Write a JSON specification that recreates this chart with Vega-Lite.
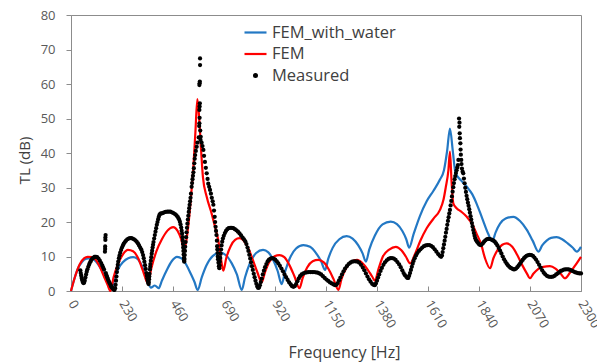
{
"$schema": "https://vega.github.io/schema/vega-lite/v6.json",
"width": 510, "height": 276,
"autosize": {"type": "none"},
"padding": {"left": 71, "top": 15, "right": 16, "bottom": 72},
"background": "white",
"config": {
  "font": "Open Sans",
  "view": {"stroke": "#8c8c8c", "strokeWidth": 1},
  "axis": {"grid": false, "domainColor": "#8c8c8c", "tickColor": "#8c8c8c", "labelColor": "#595959", "titleColor": "#404040", "labelFont": "Open Sans", "titleFont": "Open Sans", "labelFontSize": 13, "titleFontSize": 16, "titleFontWeight": "normal", "labelFlush": false, "labelOverlap": false}
},
"datasets": {
"fem_water": [
{"f":0,"tl":0},{"f":15,"tl":3.5},{"f":30,"tl":6.3},{"f":50,"tl":8.5},{"f":70,"tl":9.4},{"f":88,"tl":9.5},{"f":105,"tl":9.0},{"f":125,"tl":7.5},{"f":145,"tl":5.2},{"f":160,"tl":3.0},{"f":172,"tl":1.3},{"f":180,"tl":0.5},
{"f":195,"tl":3.2},{"f":212,"tl":6.3},{"f":235,"tl":8.4},{"f":258,"tl":9.5},{"f":280,"tl":9.8},{"f":300,"tl":9.3},{"f":320,"tl":7.3},{"f":340,"tl":4.3},{"f":360,"tl":1.0},{"f":378,"tl":1.6},{"f":395,"tl":0.8},
{"f":410,"tl":3.0},{"f":430,"tl":5.8},{"f":455,"tl":8.7},{"f":478,"tl":9.9},{"f":500,"tl":9.4},{"f":520,"tl":7.6},{"f":540,"tl":5.0},{"f":557,"tl":2.6},{"f":571,"tl":0.3},
{"f":590,"tl":4.0},{"f":610,"tl":7.3},{"f":640,"tl":10.2},{"f":672,"tl":11.1},{"f":700,"tl":10.3},{"f":725,"tl":8.0},{"f":748,"tl":4.8},{"f":770,"tl":0.3},
{"f":785,"tl":4.0},{"f":805,"tl":7.8},{"f":835,"tl":11.0},{"f":866,"tl":11.9},{"f":890,"tl":11.2},{"f":912,"tl":9.0},{"f":932,"tl":5.8},{"f":950,"tl":2.0},
{"f":965,"tl":5.5},{"f":985,"tl":9.2},{"f":1015,"tl":12.3},{"f":1048,"tl":13.3},{"f":1078,"tl":12.8},{"f":1105,"tl":11.0},{"f":1128,"tl":8.6},{"f":1146,"tl":6.1},
{"f":1160,"tl":9.3},{"f":1180,"tl":12.5},{"f":1210,"tl":15.0},{"f":1243,"tl":15.9},{"f":1270,"tl":15.2},{"f":1295,"tl":13.3},{"f":1315,"tl":10.9},{"f":1330,"tl":8.5},
{"f":1345,"tl":12.0},{"f":1370,"tl":16.0},{"f":1405,"tl":19.3},{"f":1442,"tl":20.1},{"f":1470,"tl":19.4},{"f":1495,"tl":17.3},{"f":1512,"tl":15.0},{"f":1525,"tl":12.6},
{"f":1545,"tl":16.5},{"f":1574,"tl":21.8},{"f":1604,"tl":26.0},{"f":1634,"tl":29.0},{"f":1664,"tl":32.3},{"f":1682,"tl":35.0},{"f":1696,"tl":40.5},{"f":1709,"tl":47.1},{"f":1722,"tl":40.5},{"f":1734,"tl":34.2},{"f":1760,"tl":32.0},{"f":1785,"tl":30.2},{"f":1810,"tl":28.0},{"f":1830,"tl":25.2},{"f":1855,"tl":21.0},{"f":1882,"tl":16.5},{"f":1900,"tl":14.5},
{"f":1915,"tl":17.0},{"f":1935,"tl":19.5},{"f":1960,"tl":21.0},{"f":1995,"tl":21.5},{"f":2025,"tl":20.3},{"f":2055,"tl":17.8},{"f":2082,"tl":14.6},{"f":2108,"tl":11.4},
{"f":2125,"tl":13.2},{"f":2145,"tl":14.6},{"f":2165,"tl":15.4},{"f":2190,"tl":15.6},{"f":2215,"tl":15.0},{"f":2240,"tl":13.8},{"f":2262,"tl":12.6},{"f":2281,"tl":11.4},{"f":2300,"tl":12.8}
],
"fem": [
{"f":0,"tl":0},{"f":20,"tl":4.5},{"f":40,"tl":7.8},{"f":60,"tl":9.5},{"f":75,"tl":9.9},{"f":95,"tl":9.8},{"f":110,"tl":9.2},{"f":130,"tl":7.0},{"f":150,"tl":4.0},{"f":165,"tl":1.8},{"f":178,"tl":0},
{"f":192,"tl":4.0},{"f":212,"tl":7.8},{"f":235,"tl":10.7},{"f":257,"tl":11.9},{"f":280,"tl":11.5},{"f":303,"tl":9.5},{"f":325,"tl":5.8},{"f":347,"tl":2.2},
{"f":362,"tl":6.5},{"f":385,"tl":11.5},{"f":410,"tl":15.0},{"f":435,"tl":17.5},{"f":461,"tl":18.5},{"f":480,"tl":17.5},{"f":497,"tl":15.0},{"f":510,"tl":12.0},
{"f":520,"tl":14.5},{"f":530,"tl":19.5},{"f":542,"tl":28.0},{"f":552,"tl":36.0},{"f":561,"tl":46.0},{"f":570,"tl":55.6},{"f":578,"tl":50.0},{"f":587,"tl":40.5},{"f":595,"tl":33.0},{"f":612,"tl":27.3},{"f":634,"tl":22.5},{"f":650,"tl":18.5},{"f":664,"tl":14.8},{"f":676,"tl":9.5},{"f":687,"tl":5.9},
{"f":700,"tl":9.5},{"f":720,"tl":13.0},{"f":740,"tl":14.8},{"f":760,"tl":15.3},{"f":780,"tl":14.5},{"f":800,"tl":12.3},{"f":820,"tl":9.0},{"f":840,"tl":5.5},{"f":860,"tl":2.5},
{"f":875,"tl":5.5},{"f":895,"tl":8.5},{"f":918,"tl":10.1},{"f":940,"tl":10.4},{"f":962,"tl":9.8},{"f":985,"tl":7.5},{"f":1008,"tl":4.2},{"f":1030,"tl":0.8},
{"f":1045,"tl":3.8},{"f":1065,"tl":6.8},{"f":1090,"tl":8.6},{"f":1115,"tl":9.0},{"f":1140,"tl":8.3},{"f":1162,"tl":6.3},{"f":1185,"tl":3.3},{"f":1206,"tl":0.3},
{"f":1220,"tl":3.5},{"f":1240,"tl":6.5},{"f":1265,"tl":8.5},{"f":1290,"tl":9.0},{"f":1315,"tl":8.0},{"f":1340,"tl":6.0},{"f":1358,"tl":4.2},{"f":1371,"tl":3.0},
{"f":1385,"tl":6.0},{"f":1405,"tl":9.8},{"f":1435,"tl":12.0},{"f":1465,"tl":12.8},{"f":1490,"tl":11.8},{"f":1510,"tl":10.0},{"f":1530,"tl":8.0},
{"f":1550,"tl":10.5},{"f":1575,"tl":14.5},{"f":1604,"tl":18.2},{"f":1635,"tl":21.0},{"f":1664,"tl":23.5},{"f":1680,"tl":26.5},{"f":1690,"tl":30.0},{"f":1702,"tl":35.0},{"f":1709,"tl":40.4},
{"f":1716,"tl":32.0},{"f":1724,"tl":25.4},{"f":1739,"tl":24.0},{"f":1760,"tl":23.0},{"f":1785,"tl":21.5},{"f":1810,"tl":19.3},{"f":1830,"tl":16.5},{"f":1850,"tl":13.5},{"f":1867,"tl":9.5},{"f":1890,"tl":6.6},
{"f":1905,"tl":9.5},{"f":1925,"tl":12.0},{"f":1945,"tl":13.4},{"f":1965,"tl":13.8},{"f":1990,"tl":12.8},{"f":2012,"tl":10.5},{"f":2035,"tl":7.5},{"f":2055,"tl":5.2},{"f":2070,"tl":3.7},
{"f":2085,"tl":5.0},{"f":2105,"tl":6.3},{"f":2130,"tl":7.0},{"f":2160,"tl":7.2},{"f":2185,"tl":6.5},{"f":2205,"tl":5.3},{"f":2228,"tl":3.7},
{"f":2250,"tl":5.3},{"f":2275,"tl":7.5},{"f":2300,"tl":9.9}
],
"measured": [
{"f":42,"tl":6.0},{"f":44,"tl":5.2},{"f":46,"tl":4.5},{"f":48,"tl":3.8},{"f":50,"tl":3.2},{"f":53,"tl":2.6},{"f":56,"tl":2.3},{"f":59,"tl":2.4},{"f":62,"tl":3.0},{"f":65,"tl":3.9},{"f":68,"tl":4.8},{"f":71,"tl":5.6},{"f":74,"tl":6.3},{"f":78,"tl":7.0},{"f":82,"tl":7.7},{"f":86,"tl":8.3},{"f":90,"tl":8.8},{"f":95,"tl":9.3},{"f":100,"tl":9.6},{"f":106,"tl":9.9},{"f":112,"tl":9.9},{"f":118,"tl":9.8},{"f":124,"tl":9.4},{"f":130,"tl":8.8},{"f":136,"tl":8.1},{"f":141,"tl":7.4},{"f":145,"tl":6.8},{"f":149,"tl":6.2},
{"f":153,"tl":11.4},{"f":154,"tl":12.2},{"f":154,"tl":12.9},{"f":155,"tl":14.8},{"f":155,"tl":15.5},{"f":156,"tl":16.2},
{"f":157,"tl":5.2},{"f":160,"tl":4.6},{"f":163,"tl":4.0},{"f":166,"tl":3.5},{"f":169,"tl":3.0},{"f":172,"tl":2.6},{"f":175,"tl":2.2},{"f":178,"tl":1.8},{"f":181,"tl":1.4},{"f":184,"tl":1.1},{"f":187,"tl":0.8},{"f":190,"tl":0.6},{"f":193,"tl":0.4},{"f":196,"tl":0.3},{"f":199,"tl":0.8},{"f":201,"tl":1.8},{"f":203,"tl":3.0},{"f":205,"tl":4.2},{"f":207,"tl":5.5},{"f":209,"tl":6.6},{"f":211,"tl":7.6},{"f":213,"tl":8.5},{"f":216,"tl":9.5},{"f":219,"tl":10.3},{"f":222,"tl":11.1},{"f":226,"tl":11.9},{"f":230,"tl":12.6},{"f":234,"tl":13.2},{"f":238,"tl":13.7},{"f":243,"tl":14.2},{"f":248,"tl":14.6},{"f":254,"tl":15.0},{"f":260,"tl":15.2},{"f":266,"tl":15.3},{"f":272,"tl":15.3},{"f":278,"tl":15.2},{"f":284,"tl":15.0},{"f":290,"tl":14.7},{"f":296,"tl":14.3},{"f":302,"tl":13.8},{"f":307,"tl":13.2},{"f":312,"tl":12.6},{"f":317,"tl":12.0},{"f":321,"tl":11.3},{"f":325,"tl":10.4},{"f":328,"tl":9.5},{"f":331,"tl":8.5},{"f":334,"tl":7.5},{"f":337,"tl":6.4},{"f":340,"tl":5.2},{"f":342,"tl":4.4},{"f":344,"tl":3.6},{"f":346,"tl":3.0},{"f":348,"tl":2.4},{"f":350,"tl":2.0},{"f":351,"tl":2.6},{"f":352,"tl":3.4},{"f":353,"tl":4.2},{"f":354,"tl":5.0},{"f":356,"tl":6.2},{"f":357,"tl":7.0},{"f":358,"tl":7.8},{"f":360,"tl":8.8},{"f":362,"tl":9.8},{"f":364,"tl":10.8},{"f":366,"tl":11.7},{"f":368,"tl":12.6},{"f":370,"tl":13.4},{"f":372,"tl":14.2},{"f":375,"tl":15.2},{"f":378,"tl":16.2},{"f":381,"tl":17.2},{"f":384,"tl":18.2},{"f":387,"tl":19.2},{"f":390,"tl":20.0},{"f":393,"tl":20.8},{"f":396,"tl":21.5},{"f":399,"tl":22.1},{"f":403,"tl":22.4},{"f":408,"tl":22.5},{"f":414,"tl":22.6},{"f":420,"tl":22.8},{"f":427,"tl":22.9},{"f":434,"tl":23.0},{"f":441,"tl":23.0},{"f":448,"tl":23.0},{"f":455,"tl":22.8},{"f":462,"tl":22.6},{"f":469,"tl":22.3},{"f":476,"tl":21.9},{"f":482,"tl":21.4},{"f":487,"tl":20.8},{"f":491,"tl":20.1},{"f":494,"tl":19.3},{"f":497,"tl":18.4},{"f":499,"tl":17.5},{"f":501,"tl":16.6},{"f":503,"tl":15.6},{"f":504,"tl":14.6},{"f":505,"tl":13.6},{"f":506,"tl":12.6},{"f":507,"tl":11.6},{"f":508,"tl":10.6},{"f":509,"tl":9.6},{"f":510,"tl":8.8},{"f":511,"tl":8.5},{"f":512,"tl":9.3},{"f":513,"tl":10.4},{"f":514,"tl":11.6},{"f":515,"tl":12.8},{"f":517,"tl":14.2},{"f":519,"tl":15.6},{"f":521,"tl":17.0},{"f":523,"tl":18.3},{"f":525,"tl":19.5},{"f":527,"tl":20.7},{"f":529,"tl":21.8},{"f":531,"tl":22.9},{"f":533,"tl":24.0},{"f":535,"tl":25.0},{"f":537,"tl":26.0},{"f":539,"tl":27.0},{"f":541,"tl":28.2},{"f":544,"tl":30.2},{"f":546,"tl":31.3},{"f":548,"tl":32.4},{"f":550,"tl":33.4},{"f":552,"tl":34.4},{"f":554,"tl":35.6},{"f":556,"tl":37.0},{"f":558,"tl":38.3},{"f":560,"tl":39.4},{"f":563,"tl":40.6},{"f":567,"tl":41.8},{"f":570,"tl":43.0},
{"f":576,"tl":44.5},{"f":578,"tl":47.8},{"f":579,"tl":48.6},{"f":580,"tl":50.2},{"f":579,"tl":52.5},{"f":580,"tl":53.5},{"f":581,"tl":54.4},{"f":579,"tl":59.7},{"f":580,"tl":60.2},{"f":581,"tl":60.7},{"f":582,"tl":65.5},{"f":582,"tl":67.4},{"f":583,"tl":46.5},{"f":585,"tl":44.7},{"f":584,"tl":43.8},
{"f":589,"tl":43.0},{"f":593,"tl":42.0},{"f":597,"tl":40.9},{"f":600,"tl":39.2},{"f":604,"tl":37.4},{"f":608,"tl":35.7},{"f":612,"tl":34.1},{"f":616,"tl":32.5},{"f":619,"tl":31.1},{"f":623,"tl":30.2},{"f":627,"tl":29.3},{"f":631,"tl":28.2},{"f":635,"tl":27.0},{"f":639,"tl":26.0},{"f":642,"tl":25.0},{"f":645,"tl":23.3},{"f":648,"tl":21.5},{"f":650,"tl":20.0},{"f":652,"tl":18.6},{"f":654,"tl":17.4},{"f":656,"tl":16.2},{"f":658,"tl":14.6},{"f":659,"tl":13.0},{"f":660,"tl":12.0},{"f":661,"tl":11.0},{"f":662,"tl":10.0},{"f":663,"tl":9.2},{"f":665,"tl":8.2},{"f":667,"tl":7.2},{"f":669,"tl":6.6},{"f":670,"tl":7.5},{"f":671,"tl":8.5},{"f":673,"tl":9.6},{"f":675,"tl":10.8},{"f":677,"tl":12.0},{"f":679,"tl":13.2},{"f":682,"tl":14.3},{"f":685,"tl":15.2},{"f":689,"tl":16.0},{"f":694,"tl":16.8},{"f":699,"tl":17.4},{"f":705,"tl":17.9},{"f":711,"tl":18.2},{"f":718,"tl":18.3},{"f":725,"tl":18.3},{"f":732,"tl":18.2},{"f":739,"tl":17.9},{"f":746,"tl":17.6},{"f":753,"tl":17.2},{"f":760,"tl":16.7},{"f":767,"tl":16.1},{"f":774,"tl":15.5},{"f":780,"tl":15.0},{"f":786,"tl":14.4},{"f":791,"tl":13.6},{"f":796,"tl":12.6},{"f":800,"tl":11.6},{"f":804,"tl":10.5},{"f":808,"tl":9.4},{"f":812,"tl":8.3},{"f":816,"tl":7.2},{"f":820,"tl":6.1},{"f":824,"tl":5.0},{"f":828,"tl":4.0},{"f":832,"tl":3.0},{"f":836,"tl":2.1},{"f":840,"tl":1.3},{"f":844,"tl":0.9},{"f":848,"tl":1.0},{"f":852,"tl":1.7},{"f":856,"tl":2.6},{"f":860,"tl":3.6},{"f":865,"tl":4.8},{"f":870,"tl":5.9},{"f":875,"tl":6.9},{"f":881,"tl":7.8},{"f":887,"tl":8.6},{"f":893,"tl":9.1},{"f":900,"tl":9.4},{"f":907,"tl":9.5},{"f":914,"tl":9.4},{"f":921,"tl":9.1},{"f":928,"tl":8.6},{"f":935,"tl":8.0},{"f":942,"tl":7.3},{"f":949,"tl":6.5},{"f":956,"tl":5.7},{"f":963,"tl":4.8},{"f":970,"tl":4.0},{"f":977,"tl":3.2},{"f":984,"tl":2.5},{"f":991,"tl":1.9},{"f":997,"tl":1.4},{"f":1003,"tl":1.2},{"f":1009,"tl":1.4},{"f":1015,"tl":2.0},{"f":1021,"tl":2.8},{"f":1027,"tl":3.6},{"f":1033,"tl":4.3},{"f":1040,"tl":4.8},{"f":1048,"tl":5.1},{"f":1056,"tl":5.3},{"f":1064,"tl":5.4},{"f":1072,"tl":5.5},{"f":1080,"tl":5.5},{"f":1088,"tl":5.5},{"f":1096,"tl":5.5},{"f":1104,"tl":5.4},{"f":1112,"tl":5.3},{"f":1120,"tl":5.1},{"f":1128,"tl":4.8},{"f":1136,"tl":4.3},{"f":1144,"tl":3.8},{"f":1152,"tl":3.3},{"f":1160,"tl":2.9},{"f":1168,"tl":2.5},{"f":1176,"tl":2.2},{"f":1184,"tl":1.9},{"f":1191,"tl":1.7},{"f":1197,"tl":1.8},{"f":1203,"tl":2.3},{"f":1209,"tl":3.1},{"f":1215,"tl":3.9},{"f":1222,"tl":4.8},{"f":1229,"tl":5.7},{"f":1236,"tl":6.5},{"f":1244,"tl":7.2},{"f":1252,"tl":7.8},{"f":1260,"tl":8.2},{"f":1268,"tl":8.5},{"f":1276,"tl":8.6},{"f":1284,"tl":8.6},{"f":1292,"tl":8.5},{"f":1300,"tl":8.2},{"f":1308,"tl":7.6},{"f":1316,"tl":6.8},{"f":1323,"tl":6.0},{"f":1330,"tl":5.1},{"f":1337,"tl":4.2},{"f":1344,"tl":3.4},{"f":1351,"tl":2.7},{"f":1358,"tl":2.1},{"f":1364,"tl":1.8},{"f":1370,"tl":1.7},{"f":1375,"tl":2.2},{"f":1380,"tl":3.0},{"f":1385,"tl":3.9},{"f":1390,"tl":4.8},{"f":1396,"tl":5.8},{"f":1402,"tl":6.7},{"f":1409,"tl":7.6},{"f":1416,"tl":8.3},{"f":1424,"tl":8.9},{"f":1432,"tl":9.3},{"f":1440,"tl":9.5},{"f":1448,"tl":9.5},{"f":1456,"tl":9.4},{"f":1464,"tl":9.0},{"f":1472,"tl":8.4},{"f":1480,"tl":7.7},{"f":1487,"tl":6.9},{"f":1494,"tl":6.0},{"f":1500,"tl":5.2},{"f":1506,"tl":4.6},{"f":1512,"tl":4.1},{"f":1517,"tl":3.8},{"f":1521,"tl":3.8},{"f":1525,"tl":4.4},{"f":1529,"tl":5.2},{"f":1533,"tl":6.1},{"f":1537,"tl":7.0},{"f":1541,"tl":7.9},{"f":1545,"tl":8.7},{"f":1550,"tl":9.5},{"f":1556,"tl":10.3},{"f":1562,"tl":11.0},{"f":1569,"tl":11.6},{"f":1576,"tl":12.1},{"f":1584,"tl":12.6},{"f":1592,"tl":13.0},{"f":1600,"tl":13.2},{"f":1608,"tl":13.3},{"f":1616,"tl":13.3},{"f":1624,"tl":13.1},{"f":1632,"tl":12.7},{"f":1640,"tl":12.1},{"f":1648,"tl":11.4},{"f":1656,"tl":10.7},{"f":1663,"tl":10.2},{"f":1669,"tl":9.9},{"f":1673,"tl":10.3},{"f":1676,"tl":11.3},{"f":1679,"tl":12.4},{"f":1682,"tl":13.5},{"f":1685,"tl":14.6},{"f":1688,"tl":15.7},{"f":1691,"tl":16.9},{"f":1694,"tl":18.0},{"f":1697,"tl":19.2},{"f":1700,"tl":20.3},{"f":1703,"tl":21.4},{"f":1706,"tl":22.5},{"f":1709,"tl":23.5},{"f":1712,"tl":24.8},{"f":1715,"tl":26.1},{"f":1718,"tl":27.4},{"f":1721,"tl":28.8},{"f":1724,"tl":30.1},{"f":1727,"tl":31.3},{"f":1730,"tl":32.4},{"f":1733,"tl":33.3},{"f":1736,"tl":34.2},{"f":1739,"tl":35.0},{"f":1742,"tl":35.8},{"f":1745,"tl":36.5},
{"f":1747,"tl":38.0},{"f":1750,"tl":50.0},{"f":1751,"tl":47.6},{"f":1752,"tl":48.8},{"f":1753,"tl":45.7},{"f":1754,"tl":44.3},{"f":1756,"tl":42.8},{"f":1757,"tl":41.0},{"f":1758,"tl":39.5},{"f":1760,"tl":38.0},{"f":1761,"tl":36.8},{"f":1763,"tl":35.5},{"f":1766,"tl":34.6},{"f":1769,"tl":34.1},
{"f":1772,"tl":32.6},{"f":1775,"tl":31.2},{"f":1778,"tl":29.9},{"f":1781,"tl":28.7},{"f":1784,"tl":27.6},{"f":1787,"tl":26.6},{"f":1790,"tl":25.6},{"f":1793,"tl":24.7},{"f":1796,"tl":23.7},{"f":1799,"tl":22.7},{"f":1802,"tl":21.7},{"f":1805,"tl":20.7},{"f":1808,"tl":19.7},{"f":1811,"tl":18.7},{"f":1814,"tl":17.7},{"f":1817,"tl":16.8},{"f":1820,"tl":16.0},{"f":1823,"tl":15.3},{"f":1827,"tl":14.7},{"f":1831,"tl":14.3},{"f":1836,"tl":13.9},{"f":1841,"tl":13.5},{"f":1846,"tl":13.3},{"f":1851,"tl":13.4},{"f":1857,"tl":13.8},{"f":1863,"tl":14.3},{"f":1869,"tl":14.7},{"f":1875,"tl":15.0},{"f":1881,"tl":15.1},{"f":1887,"tl":15.1},{"f":1893,"tl":15.0},{"f":1899,"tl":14.8},{"f":1905,"tl":14.6},{"f":1911,"tl":14.3},{"f":1917,"tl":13.8},{"f":1923,"tl":13.2},{"f":1929,"tl":12.5},{"f":1935,"tl":11.7},{"f":1941,"tl":10.9},{"f":1947,"tl":10.0},{"f":1953,"tl":9.2},{"f":1959,"tl":8.5},{"f":1965,"tl":7.9},{"f":1971,"tl":7.4},{"f":1977,"tl":7.0},{"f":1983,"tl":6.7},{"f":1989,"tl":6.5},{"f":1995,"tl":6.3},{"f":2001,"tl":6.3},{"f":2007,"tl":6.5},{"f":2013,"tl":6.9},{"f":2019,"tl":7.4},{"f":2025,"tl":7.9},{"f":2031,"tl":8.5},{"f":2037,"tl":9.0},{"f":2043,"tl":9.5},{"f":2049,"tl":9.9},{"f":2055,"tl":10.2},{"f":2062,"tl":10.4},{"f":2069,"tl":10.5},{"f":2076,"tl":10.4},{"f":2083,"tl":10.2},{"f":2090,"tl":9.7},{"f":2097,"tl":9.1},{"f":2104,"tl":8.4},{"f":2111,"tl":7.6},{"f":2118,"tl":6.8},{"f":2125,"tl":6.0},{"f":2132,"tl":5.3},{"f":2139,"tl":4.8},{"f":2146,"tl":4.4},{"f":2153,"tl":4.2},{"f":2160,"tl":4.1},{"f":2167,"tl":4.1},{"f":2174,"tl":4.2},{"f":2181,"tl":4.4},{"f":2188,"tl":4.8},{"f":2195,"tl":5.1},{"f":2202,"tl":5.5},{"f":2209,"tl":5.8},{"f":2216,"tl":6.0},{"f":2223,"tl":6.2},{"f":2230,"tl":6.3},{"f":2237,"tl":6.3},{"f":2244,"tl":6.3},{"f":2251,"tl":6.1},{"f":2258,"tl":5.9},{"f":2265,"tl":5.7},{"f":2272,"tl":5.5},{"f":2279,"tl":5.3},{"f":2286,"tl":5.2},{"f":2293,"tl":5.1},{"f":2300,"tl":5.1}
]
},
"encoding": {
  "x": {"field": "f", "type": "quantitative", "scale": {"domain": [0, 2300], "nice": false},
        "axis": {"values": [0,230,460,690,920,1150,1380,1610,1840,2070,2300], "format": "d", "title": "Frequency [Hz]", "labelAngle": 60, "labelAlign": "left", "labelBaseline": "middle", "tickSize": -5, "labelPadding": 15, "titleX": 273, "titleY": 61, "titleBaseline": "middle", "titleAlign": "center"}},
  "y": {"field": "tl", "type": "quantitative", "scale": {"domain": [0, 80], "nice": false},
        "axis": {"values": [0,10,20,30,40,50,60,70,80], "title": "TL (dB)", "titleFontSize": 15, "tickSize": 5, "labelPadding": 11, "titleX": -47, "titleY": 145, "titleAngle": -90, "titleAlign": "center", "titleBaseline": "middle"}}
},
"layer": [
  {"data": {"name": "fem_water"},
   "mark": {"type": "line", "strokeWidth": 2.2, "interpolate": "monotone"},
   "encoding": {"color": {"datum": "FEM_with_water", "type": "nominal",
     "scale": {"domain": ["FEM_with_water", "FEM", "Measured"], "range": ["#2378c4", "#ff0000", "#000000"]},
     "legend": {"title": null, "orient": "none", "legendX": 172, "legendY": 5, "padding": 0,
       "symbolType": "stroke", "symbolSize": 400, "symbolStrokeWidth": 2.2,
       "labelFont": "Open Sans", "labelFontSize": 16.5, "labelColor": "#404040", "labelOffset": 4, "rowPadding": 0.5,
       "encode": {"symbols": {"update": {
         "shape": {"signal": "datum.value === 'Measured' ? 'circle' : 'stroke'"},
         "size": {"signal": "datum.value === 'Measured' ? 8 : 484"},
         "fill": {"signal": "datum.value === 'Measured' ? '#000000' : 'transparent'"},
         "stroke": {"signal": "datum.value === 'Measured' ? 'transparent' : (datum.value === 'FEM' ? '#ff0000' : '#2378c4')"},
         "strokeWidth": {"value": 2.2},
         "opacity": {"value": 1}}}}}}}},
  {"data": {"name": "fem"},
   "mark": {"type": "line", "strokeWidth": 2.2, "interpolate": "monotone"},
   "encoding": {"color": {"datum": "FEM", "type": "nominal"}}},
  {"data": {"name": "measured"},
   "mark": {"type": "point", "filled": true, "size": 18, "opacity": 1, "strokeWidth": 0},
   "encoding": {"color": {"datum": "Measured", "type": "nominal"}}}
]
}
